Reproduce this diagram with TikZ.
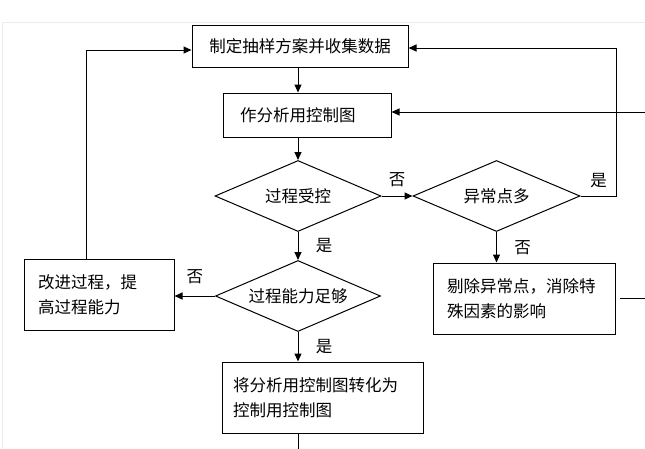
\documentclass[tikz,border=0pt]{standalone}
\usepackage{fontspec}
\newfontfamily\cjk{Noto Sans CJK SC}
\usepackage{tikz}
\usetikzlibrary{arrows.meta}
\usetikzlibrary{shapes}
\tikzset{
  box/.style={draw, line width=1pt, inner sep=0pt},
  textbox/.style={box, align=left, inner xsep=#1, inner ysep=0pt},
  decision/.style={draw, diamond, aspect=2.3, line width=1pt, inner sep=0pt},
  flow/.style={line width=1pt, -{Triangle[length=8pt,width=7pt]}},
  frame/.style={gray!15, line width=1pt}
}

\begin{document}
\begin{tikzpicture}[x=1pt, y=-1pt, font=\cjk\fontsize{16.5}{25}\selectfont]
    \clip (0,0) rectangle (645,448);
    \draw[frame] (2,448) |- (650,22);
    %boxes
    \node[box, minimum width=216pt, minimum height=42pt] (plan) at (300,46) {制定抽样方案并收集数据};
    \node[textbox=17pt, text width=134pt, minimum width=168pt, minimum height=44pt] (chart) at (307,115) {作分析用控制图};
    \node[decision, minimum width=166pt, minimum height=71pt] (ctrl) at (298,196) {过程受控};
    \node[decision, minimum width=167pt, minimum height=71pt] (many) at (496.5,196) {异常点多};
    \node[decision, minimum width=165pt, minimum height=71pt] (able) at (298,296) {过程能力足够};
    \node[textbox=14pt, text width=122pt, minimum height=71pt] (improve) at (99,294.5) {改进过程，提\\高过程能力};
    \node[textbox=14pt, text width=154pt, minimum height=71pt] (remove) at (524,298.5) {剔除异常点，消除特\\殊因素的影响};
    \node[textbox=11pt, text width=179pt, minimum height=71pt] (convert) at (322.5,397.5) {将分析用控制图转化为\\控制用控制图};
    %connectors
    \draw[flow] (plan.south -| ctrl.north) -- (chart.north -| ctrl.north);
    \draw[flow] (chart.south -| ctrl.north) -- (ctrl.north);
    \draw[flow] (ctrl.east) -- (ctrl.east -| many.west) node[midway, above=5pt] {否};
    \draw[flow] (many.east) -- node[above=4pt] {是} ++(36,0) |- ([yshift=-2pt]plan.east);
    \draw[flow] (many.south) -- (many.south |- remove.north) node[midway, right=14pt] {否};
    \draw[flow] ([xshift=4pt]remove.east) -- ++(40,0) |- ([yshift=3pt]chart.east);
    \draw[flow] (ctrl.south) -- (able.north) node[midway, right=14pt] {是};
    \draw[flow] (able.west) -- (able.west -| improve.east) node[midway, above=8pt] {否};
    \draw[flow] ([xshift=-13pt]improve.north) |- ([yshift=-4pt]plan.west);
    \draw[flow] (able.south) -- (convert.north -| able.south) node[midway, right=14pt] {是};
    \draw[line width=1pt] (convert.south -| able.south) -- ++(0,20);
\end{tikzpicture}
\end{document}
